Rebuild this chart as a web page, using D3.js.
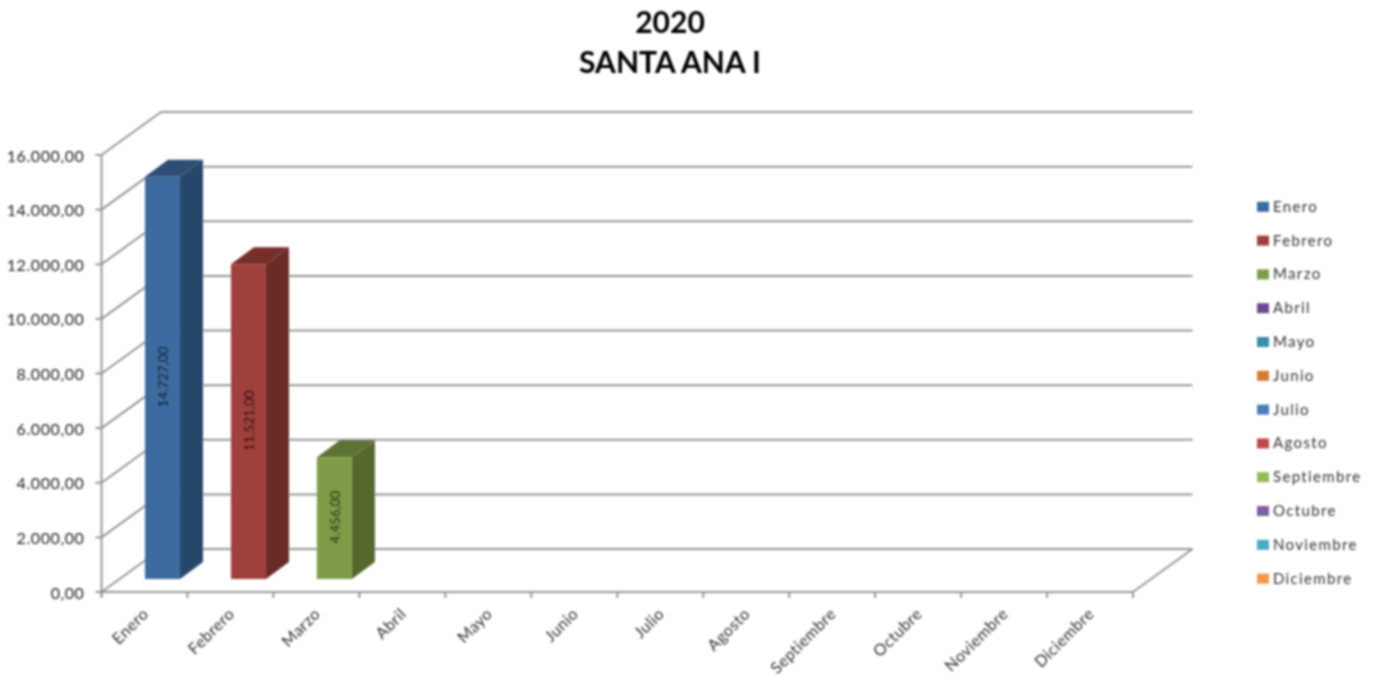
<!DOCTYPE html>
<html><head><meta charset="utf-8">
<style>html,body{margin:0;padding:0;background:#fff}svg{display:block}text{font-family:Lato,"Open Sans",sans-serif}</style>
<script src="https://cdn.jsdelivr.net/npm/d3@7/dist/d3.min.js"></script>
</head><body><div id="c"></div>
<script>
const titleLines = ["2020", "SANTA ANA I"];
const months = ["Enero","Febrero","Marzo","Abril","Mayo","Junio","Julio","Agosto","Septiembre","Octubre","Noviembre","Diciembre"];
const values = [14727, 11521, 4456, null, null, null, null, null, null, null, null, null];
const colors = ["#3d6a9f","#a03f3c","#7f9b47","#694a8e","#3a8ea8","#d47b2f","#4a7ebb","#be4b48","#98b954","#7d60a0","#46aac5","#f79646"];
const yTicks = [0,2000,4000,6000,8000,10000,12000,14000,16000];

const W = 1379, H = 681;
const plotL = 101.5, plotR = 1133, plotB = 592, plotT = 155;
const wallDx = 59.5, wallDy = -43;
const barDx = 23, barDy = -17, barW = 35, barInX = 18, barInY = -13;

const fmt = v => d3.format(",.2f")(v).replace(/[,.]/g, c => c === "," ? "." : ",");
const x = d3.scaleBand().domain(months).range([plotL, plotR]);
const y = d3.scaleLinear().domain([0, 16000]).range([plotB, plotT]);

const svg = d3.select("#c").append("svg").attr("width", W).attr("height", H);
const defs = svg.append("defs");
defs.append("filter").attr("id","soft").attr("filterUnits","userSpaceOnUse").attr("x",0).attr("y",0).attr("width",W).attr("height",H)
  .append("feGaussianBlur").attr("stdDeviation",0.8);
const root = svg.append("g").attr("filter","url(#soft)");

root.append("g").selectAll("text").data(titleLines).join("text")
  .attr("x",670).attr("y",(d,i)=>33+i*40).attr("text-anchor","middle")
  .attr("font-size",30).attr("font-weight",700).attr("fill","#000").text(d=>d);

const gridC = "#969696";
const grid = root.append("g").attr("stroke",gridC).attr("stroke-width",2).attr("fill","none");
yTicks.forEach(t=>{
  grid.append("line").attr("x1",plotL+wallDx).attr("x2",plotR+wallDx).attr("y1",y(t)+wallDy).attr("y2",y(t)+wallDy);
  grid.append("line").attr("x1",plotL).attr("x2",plotL+wallDx).attr("y1",y(t)).attr("y2",y(t)+wallDy);
  grid.append("line").attr("x1",plotL-6).attr("x2",plotL).attr("y1",y(t)).attr("y2",y(t));
});
grid.append("line").attr("x1",plotL).attr("x2",plotL).attr("y1",plotT).attr("y2",plotB+5);
grid.append("line").attr("x1",plotL).attr("x2",plotR).attr("y1",plotB).attr("y2",plotB);
grid.append("line").attr("x1",plotR).attr("x2",plotR+wallDx).attr("y1",plotB).attr("y2",plotB+wallDy);
months.forEach(m=>grid.append("line").attr("x1",x(m)).attr("x2",x(m)).attr("y1",plotB).attr("y2",plotB+6));
grid.append("line").attr("x1",plotR).attr("x2",plotR).attr("y1",plotB).attr("y2",plotB+6);

root.append("g").selectAll("text").data(yTicks).join("text")
  .attr("x",84.5).attr("y",t=>y(t)+6.5).attr("text-anchor","end")
  .attr("font-size",16).attr("letter-spacing",0.6).attr("fill","#222").text(fmt);

root.append("g").selectAll("text").data(months).join("text")
  .attr("text-anchor","end").attr("font-size",16).attr("letter-spacing",0.45).attr("fill","#333")
  .attr("transform",m=>`translate(${x(m)+x.bandwidth()/2-3},${plotB+15}) rotate(-45)`)
  .attr("dy","0.7em").text(m=>m);

const barData = months.map((m,i)=>({m,v:values[i],c:colors[i]})).filter(d=>d.v!=null);
const bars = root.append("g").selectAll("g").data(barData).join("g");
const bx = d => x(d.m)+x.bandwidth()/2+barInX-barW/2;
const by0 = plotB+barInY;
const byT = d => y(d.v)+barInY;
bars.append("path").attr("fill",d=>d3.color(d.c).darker(1.15))
  .attr("d",d=>{const X=bx(d)+barW;return `M${X},${by0}L${X+barDx},${by0+barDy}L${X+barDx},${byT(d)+barDy}L${X},${byT(d)}Z`;});
bars.append("path").attr("fill",d=>d3.color(d.c).darker(0.85))
  .attr("d",d=>{const X=bx(d),T=byT(d);return `M${X},${T}L${X+barDx},${T+barDy}L${X+barW+barDx},${T+barDy}L${X+barW},${T}Z`;});
bars.append("rect").attr("x",bx).attr("y",byT).attr("width",barW).attr("height",d=>by0-byT(d)).attr("fill",d=>d.c);
bars.append("text")
  .attr("transform",d=>`translate(${bx(d)+barW/2+5.5},${(by0+byT(d))/2-1}) rotate(-90)`)
  .attr("text-anchor","middle").attr("font-size",13).attr("letter-spacing",0.2).attr("fill","#000").text(d=>fmt(d.v));

const lg = root.append("g").selectAll("g").data(months).join("g")
  .attr("transform",(m,i)=>`translate(1257,${206.3+i*33.8})`);
lg.append("rect").attr("x",0).attr("y",-4.5).attr("width",12).attr("height",10).attr("fill",(m,i)=>colors[i]);
lg.append("text").attr("x",16).attr("y",5.5).attr("font-size",15).attr("letter-spacing",1.35).attr("fill","#333").text(m=>m);
</script></body></html>
